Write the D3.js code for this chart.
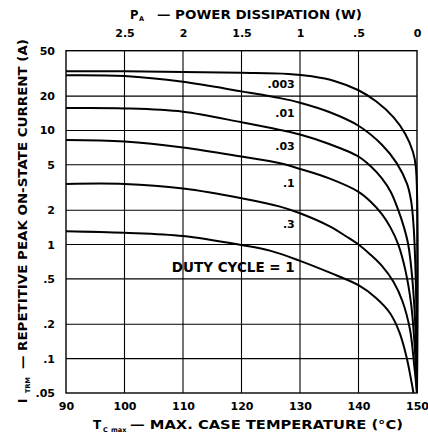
<!DOCTYPE html>
<html>
<head>
<meta charset="utf-8">
<script src="https://cdn.jsdelivr.net/npm/d3@7"></script>
<style>
  body { margin: 0; background: #fff; }
  svg { display: block; }
  text { font-family: "DejaVu Sans", sans-serif; font-weight: bold; fill: #000; }
</style>
</head>
<body>
<script>
'use strict';

// duty cycle of each curve, top curve first
const dutyCycles = [".003", ".01", ".03", ".1", ".3", "DUTY CYCLE = 1"];

// points: [max case temperature (°C), current (A)]
const curve003 = [[90, 33], [100, 33], [110, 32.5], [120, 32], [128, 31.3], [132, 29.8], [136, 27], [140, 22.5],
  [143, 18], [146, 13], [148, 9.3], [149.3, 6.5], [149.8, 4.8], [150, 0.05]];
const curve01 = [[90, 30.5], [100, 30], [110, 26.7], [120, 22], [126.6, 19.2], [130, 17.5], [135, 14.5],
  [140, 11], [144, 7.5], [146.5, 5.2], [148.3, 3.4], [149, 2.4], [149.4, 1.5], [149.7, 0.7], [149.9, 0.25], [150, 0.05]];
const curve03 = [[90, 15.7], [100, 15.6], [110, 14.6], [120, 11.8], [126.6, 10.1], [130, 9.2], [135, 7.6],
  [140, 5.9], [142, 4.9], [144, 3.8], [145.5, 2.9], [146.8, 2.0], [147.8, 1.4], [148.5, 1.0], [149.2, 0.5],
  [149.7, 0.2], [150, 0.05]];
const curve1 = [[90, 8.25], [100, 8], [110, 7.1], [120, 5.9], [126.6, 5.15], [130, 4.6], [135, 3.8],
  [140, 2.9], [142, 2.4], [144, 1.85], [145.5, 1.4], [146.8, 1.0], [148, 0.6], [149, 0.3], [149.6, 0.13], [150, 0.05]];
const curve3 = [[90, 3.4], [100, 3.4], [110, 3.1], [120, 2.55], [126.6, 2.15], [130, 1.88], [135, 1.45],
  [138, 1.17], [140, 1.0], [142, 0.82], [144, 0.65], [146, 0.47], [147.5, 0.32], [148.8, 0.18], [149.5, 0.09], [150, 0.05]];
const curveDC1 = [[90, 1.31], [100, 1.27], [110, 1.19], [120, 0.99], [125, 0.88], [130, 0.72], [135, 0.57],
  [140, 0.44], [143, 0.34], [145.4, 0.25], [147, 0.17], [148.2, 0.104], [149, 0.065], [149.4, 0.05]];

const curves = [curve003, curve01, curve03, curve1, curve3, curveDC1];

// tick values
const tempTicks = [90, 100, 110, 120, 130, 140, 150];
const powerTicks = [2.5, 2, 1.5, 1, 0.5, 0];
const currentTicks = [50, 20, 10, 5, 2, 1, 0.5, 0.2, 0.1, 0.05];

const width = 428, height = 444;
const margin = { top: 50.7, right: 11, bottom: 51, left: 66 };

// drop the leading zero like the datasheet does (.5, .05)
const fmt = (d) => String(d).replace(/^0\./, ".");

const svg = d3.select('body').append('svg')
  .attr('width', width)
  .attr('height', height);

const xScale = d3.scaleLinear()
  .domain([90, 150])
  .range([margin.left, width - margin.right]);

// power dissipation runs backwards along the top: 3 W at 90 °C, 0 W at 150 °C
const pScale = d3.scaleLinear()
  .domain([3, 0])
  .range([margin.left, width - margin.right]);

const yScale = d3.scaleLog()
  .domain([0.05, 50])
  .range([height - margin.bottom, margin.top]);

// grid lines
svg.append('g')
  .selectAll('line')
  .data(currentTicks.slice(1, -1))
  .enter()
  .append('line')
    .attr('x1', xScale(90))
    .attr('x2', xScale(150))
    .attr('y1', (d) => yScale(d))
    .attr('y2', (d) => yScale(d))
    .attr('stroke', '#000')
    .attr('stroke-width', 1.1);

svg.append('g')
  .selectAll('line')
  .data(tempTicks.slice(1, -1))
  .enter()
  .append('line')
    .attr('x1', (d) => xScale(d))
    .attr('x2', (d) => xScale(d))
    .attr('y1', yScale(50))
    .attr('y2', yScale(0.05))
    .attr('stroke', '#000')
    .attr('stroke-width', 1.1);

// frame
svg.append('rect')
  .attr('x', xScale(90))
  .attr('y', yScale(50))
  .attr('width', xScale(150) - xScale(90))
  .attr('height', yScale(0.05) - yScale(50))
  .attr('fill', 'none')
  .attr('stroke', '#000')
  .attr('stroke-width', 1.4);

// axes (labels only, grid does the ticks)
let xAxis = d3.axisBottom(xScale).tickValues(tempTicks).tickSize(0).tickPadding(9);
let gx = svg.append('g')
  .attr('transform', `translate(0, ${yScale(0.05)})`)
  .call(xAxis);

let pAxis = d3.axisTop(pScale).tickValues(powerTicks).tickSize(0).tickPadding(13.5).tickFormat(fmt);
let gp = svg.append('g')
  .attr('transform', `translate(0, ${yScale(50)})`)
  .call(pAxis);

let yAxis = d3.axisLeft(yScale).tickValues(currentTicks).tickSize(0).tickPadding(11).tickFormat(fmt);
let gy = svg.append('g')
  .attr('transform', `translate(${xScale(90)}, 0)`)
  .call(yAxis);

[gx, gp, gy].forEach((g) => {
  g.select('.domain').remove();
  g.selectAll('text')
    .style('font-family', '"DejaVu Sans", sans-serif')
    .style('font-weight', 'bold')
    .style('font-size', '11px')
    .attr('fill', '#000');
});

// curves
let line = d3.line()
  .x((d) => xScale(d[0]))
  .y((d) => yScale(d[1]))
  .curve(d3.curveCatmullRom.alpha(0.5));

svg.append('g')
  .selectAll('path')
  .data(curves)
  .enter()
  .append('path')
    .attr('d', line)
    .attr('fill', 'none')
    .attr('stroke', '#000')
    .attr('stroke-width', 2);

// curve labels, right aligned just left of the 130 °C line
const labelCurrents = [23.4, 13.2, 6.74, 3.21, 1.39, 0.578];
svg.append('g')
  .selectAll('text')
  .data(dutyCycles)
  .enter()
  .append('text')
    .attr('x', xScale(129.1))
    .attr('y', (d, i) => yScale(labelCurrents[i]))
    .attr('text-anchor', 'end')
    .style('font-size', (d, i) => i === 5 ? '13.5px' : '11px')
    .text((d) => d);

// top title: P_A — POWER DISSIPATION (W)
svg.append('text').attr('x', 130).attr('y', 18.5).style('font-size', '11.5px').text('P');
svg.append('text').attr('x', 139).attr('y', 21).style('font-size', '6.5px').text('A');
svg.append('text').attr('x', 157).attr('y', 18.5).style('font-size', '11.5px')
  .attr('textLength', 205).attr('lengthAdjust', 'spacingAndGlyphs')
  .text('— POWER DISSIPATION (W)');

// bottom title: T_C max — MAX. CASE TEMPERATURE (°C)
svg.append('text').attr('x', 93).attr('y', 429).style('font-size', '12px').text('T');
svg.append('text').attr('x', 103).attr('y', 432).style('font-size', '6.5px').text('C');
svg.append('text').attr('x', 111).attr('y', 432).style('font-size', '6.5px').text('max');
svg.append('text').attr('x', 130).attr('y', 429).style('font-size', '12px')
  .attr('textLength', 273).attr('lengthAdjust', 'spacingAndGlyphs')
  .text('— MAX. CASE TEMPERATURE (°C)');

// left title, rotated: I_TRM — REPETITIVE PEAK ON-STATE CURRENT (A)
let ly = svg.append('g').attr('transform', 'translate(27, 403) rotate(-90)');
ly.append('text').attr('x', 0).attr('y', 0).style('font-size', '12px').text('I');
ly.append('text').attr('x', 10).attr('y', 2.5).style('font-size', '6.5px').text('TRM');
ly.append('text').attr('x', 34).attr('y', 0).style('font-size', '12px')
  .attr('textLength', 330).attr('lengthAdjust', 'spacingAndGlyphs')
  .text('— REPETITIVE PEAK ON-STATE CURRENT (A)');
</script>
</body>
</html>
